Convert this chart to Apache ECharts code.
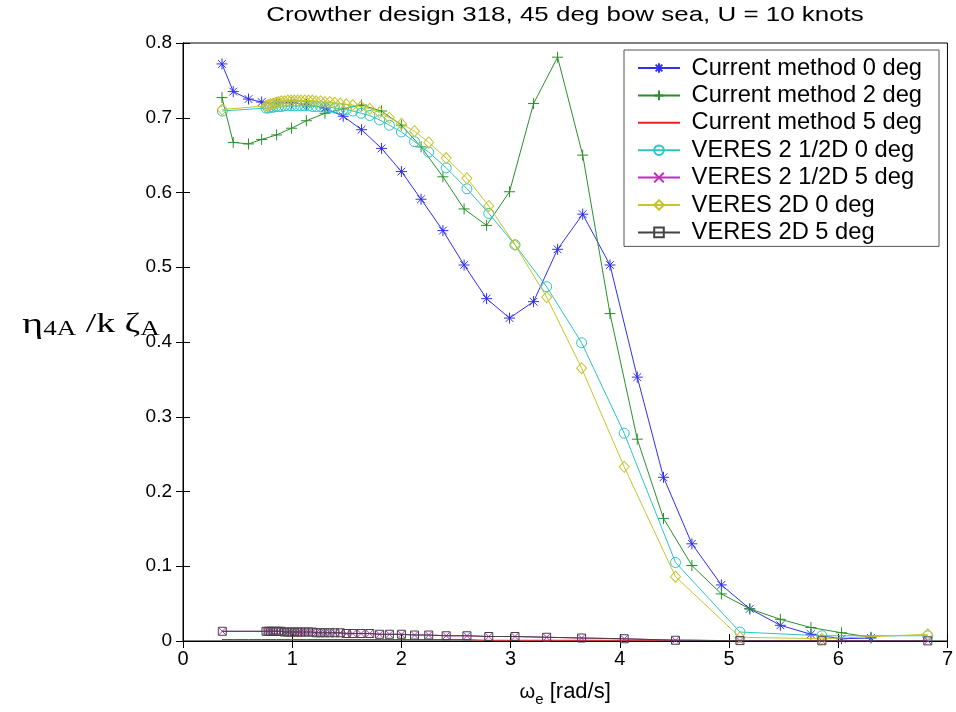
<!DOCTYPE html>
<html>
<head>
<meta charset="utf-8">
<script src="https://cdn.jsdelivr.net/npm/echarts@6/dist/echarts.min.js"></script>
<style>
  html, body { margin: 0; padding: 0; background: #fff; }
  #chart { width: 956px; height: 712px; }
</style>
</head>
<body>
<div id="chart"></div>
<script>
// ---- Data ----
const titleText = 'Crowther design 318, 45 deg bow sea, U = 10 knots';
const xTicks = [0, 1, 2, 3, 4, 5, 6, 7];
const yTicks = [0, 0.1, 0.2, 0.3, 0.4, 0.5, 0.6, 0.7, 0.8];

const seriesNames = [
  'Current method 0 deg',
  'Current method 2 deg',
  'Current method 5 deg',
  'VERES 2 1/2D 0 deg',
  'VERES 2 1/2D 5 deg',
  'VERES 2D 0 deg',
  'VERES 2D 5 deg'
];

// encounter frequencies of the "current method" runs
const freqCurrent = [0.357, 0.46, 0.60, 0.72, 0.857, 0.994, 1.13, 1.30, 1.467, 1.635,
  1.818, 2.00, 2.18, 2.38, 2.574, 2.78, 2.99, 3.21, 3.43, 3.66,
  3.91, 4.16, 4.40, 4.66, 4.93, 5.19, 5.47, 5.75, 6.03, 6.30];

const current0 = [0.772, 0.735, 0.725, 0.721, 0.720, 0.720, 0.718, 0.713, 0.702, 0.684,
  0.659, 0.628, 0.591, 0.549, 0.503, 0.458, 0.432, 0.454, 0.524, 0.571,
  0.503, 0.353, 0.219, 0.130, 0.075, 0.043, 0.021, 0.009, 0.003, 0.004];

const current2 = [0.727, 0.667, 0.665, 0.671, 0.677, 0.686, 0.696, 0.706, 0.712, 0.717,
  0.709, 0.690, 0.661, 0.621, 0.578, 0.556, 0.601, 0.719, 0.781, 0.650,
  0.438, 0.270, 0.164, 0.101, 0.063, 0.043, 0.029, 0.018, 0.011, 0.005];

const current5 = [0.002, 0.002, 0.002, 0.002, 0.002, 0.002, 0.002, 0.002, 0.002, 0.002,
  0.002, 0.002, 0.002, 0.002, 0.002, 0.001, 0.001, 0.001, 0.001, 0.001,
  0.001, 0.001, 0.001, 0.001, 0.0005, 0.0005, 0.0005, 0.0003, 0.0003, 0.0002];

// encounter frequencies of the VERES runs
const freqVeres = [0.36,
  0.76, 0.78, 0.80, 0.825, 0.85, 0.875, 0.90, 0.93, 0.96, 0.99,
  1.02, 1.05, 1.08, 1.115, 1.15, 1.185, 1.22, 1.26, 1.30, 1.345,
  1.39, 1.44, 1.495,
  1.555, 1.63, 1.71, 1.80, 1.89, 2.00, 2.12, 2.25, 2.41, 2.60,
  2.80, 3.04, 3.33, 3.65, 4.04, 4.51, 5.10, 5.85, 6.82];

const veres25d0 = [0.709,
  0.713, 0.713, 0.714, 0.714, 0.715, 0.715, 0.715, 0.716, 0.716, 0.716,
  0.716, 0.716, 0.716, 0.716, 0.716, 0.715, 0.715, 0.715, 0.714, 0.714,
  0.713, 0.712, 0.711,
  0.709, 0.706, 0.703, 0.697, 0.690, 0.681, 0.668, 0.654, 0.633, 0.605,
  0.572, 0.530, 0.474, 0.399, 0.278, 0.105, 0.012, 0.007, 0.007];

const veres25d5 = [0.013,
  0.013, 0.013, 0.013, 0.013, 0.013, 0.013, 0.013, 0.012, 0.012, 0.012,
  0.012, 0.012, 0.012, 0.012, 0.012, 0.012, 0.011, 0.011, 0.011, 0.011,
  0.011, 0.011, 0.010,
  0.010, 0.010, 0.010, 0.009, 0.009, 0.009, 0.008, 0.008, 0.007, 0.007,
  0.006, 0.006, 0.005, 0.004, 0.003, 0.001, 0.0005, 0.0003, 0.0002];

const veres2d0 = [0.711,
  0.716, 0.717, 0.718, 0.719, 0.720, 0.721, 0.722, 0.722, 0.723, 0.723,
  0.723, 0.723, 0.723, 0.723, 0.723, 0.723, 0.722, 0.722, 0.721, 0.721,
  0.720, 0.719, 0.718,
  0.717, 0.715, 0.712, 0.707, 0.700, 0.692, 0.682, 0.667, 0.646, 0.619,
  0.582, 0.530, 0.460, 0.365, 0.233, 0.086, 0.005, 0.003, 0.009];

const veres2d5 = [0.013,
  0.013, 0.013, 0.013, 0.013, 0.013, 0.013, 0.013, 0.012, 0.012, 0.012,
  0.012, 0.012, 0.012, 0.012, 0.012, 0.012, 0.011, 0.011, 0.011, 0.011,
  0.011, 0.011, 0.010,
  0.010, 0.010, 0.010, 0.009, 0.009, 0.009, 0.008, 0.008, 0.007, 0.007,
  0.006, 0.006, 0.005, 0.004, 0.003, 0.001, 0.0005, 0.0003, 0.0002];

// ---- Styling ----
const FONT = 'Liberation Sans';
const SERIF = 'Liberation Serif';
const colors = ['#2f2ff0', '#2a8f2a', '#e82020', '#2cc4c4', '#c02cc0', '#c8c42c', '#444444'];
const SYM_ASTERISK = 'path://M0,-10L0,10M-10,0L10,0M-7,-7L7,7M-7,7L7,-7';
const SYM_PLUS = 'path://M0,-10L0,10M-10,0L10,0';
const SYM_X = 'path://M-10,-10L10,10M-10,10L10,-10';
const symbols = [
  { symbol: SYM_ASTERISK, size: 11, show: true },
  { symbol: SYM_PLUS, size: 11, show: true },
  { symbol: 'circle', size: 1, show: false },
  { symbol: 'circle', size: 10, show: true },
  { symbol: SYM_X, size: 7, show: true },
  { symbol: 'diamond', size: [10, 11], show: true },
  { symbol: 'rect', size: 8, show: true }
];

const zip = (xs, ys) => xs.map((x, i) => [x, ys[i]]);
const seriesData = [
  zip(freqCurrent, current0),
  zip(freqCurrent, current2),
  zip(freqCurrent, current5),
  zip(freqVeres, veres25d0),
  zip(freqVeres, veres25d5),
  zip(freqVeres, veres2d0),
  zip(freqVeres, veres2d5)
];

const series = seriesNames.map((name, i) => ({
  name: name,
  type: 'line',
  xAxisIndex: 0,
  yAxisIndex: 0,
  data: seriesData[i],
  symbol: symbols[i].symbol,
  symbolSize: symbols[i].size,
  showSymbol: symbols[i].show,
  animation: false,
  lineStyle: { color: colors[i], width: 1 },
  itemStyle: symbols[i].show
    ? { color: 'none', borderColor: colors[i], borderWidth: 1 }
    : { color: 'none', borderColor: 'none', borderWidth: 0 },
  emphasis: { disabled: true },
  z: 2 + i
}));

const chart = echarts.init(document.getElementById('chart'), null, { renderer: 'canvas' });

const gridLeft = 183, gridTop = 43, gridW = 765, gridH = 599;

chart.setOption({
  backgroundColor: '#ffffff',
  animation: false,
  textStyle: { fontFamily: FONT },
  grid: {
    left: gridLeft, top: gridTop, width: gridW, height: gridH,
    show: true, borderColor: '#000', borderWidth: 1, backgroundColor: 'transparent',
    containLabel: false
  },
  xAxis: [
    {
      type: 'value', min: xTicks[0], max: xTicks[xTicks.length - 1], interval: 1,
      position: 'bottom',
      axisLine: { show: true, lineStyle: { color: '#000', width: 1 } },
      axisTick: { show: true, inside: true, length: 7, lineStyle: { color: '#000' } },
      axisLabel: { show: true, color: '#000', fontSize: 20, fontFamily: FONT, margin: 8 },
      splitLine: { show: false },
      name: '{w|ω}{e|e}{r| [rad/s]}',
      nameLocation: 'middle',
      nameGap: 36,
      nameTextStyle: {
        rich: {
          w: { fontSize: 20, fontFamily: FONT, color: '#000' },
          e: { fontSize: 15, fontFamily: FONT, color: '#000', padding: [15, 0, 0, 0] },
          r: { fontSize: 22, fontFamily: FONT, color: '#000' }
        }
      }
    },
    {
      type: 'value', min: xTicks[0], max: xTicks[xTicks.length - 1], interval: 1,
      position: 'top',
      axisLine: { show: true, lineStyle: { color: '#000', width: 1 } },
      axisTick: { show: true, inside: true, length: 7, lineStyle: { color: '#000' } },
      axisLabel: { show: false },
      splitLine: { show: false }
    }
  ],
  yAxis: [
    {
      type: 'value', min: yTicks[0], max: yTicks[yTicks.length - 1], interval: 0.1,
      position: 'left',
      axisLine: { show: true, lineStyle: { color: '#000', width: 1 } },
      axisTick: { show: true, inside: true, length: 7, lineStyle: { color: '#000' } },
      axisLabel: { show: true, color: '#000', fontSize: 19, fontFamily: FONT, margin: 11 },
      splitLine: { show: false }
    },
    {
      type: 'value', min: yTicks[0], max: yTicks[yTicks.length - 1], interval: 0.1,
      position: 'right',
      axisLine: { show: true, lineStyle: { color: '#000', width: 1 } },
      axisTick: { show: true, inside: true, length: 7, lineStyle: { color: '#000' } },
      axisLabel: { show: false },
      splitLine: { show: false }
    }
  ],
  legend: {
    data: seriesNames,
    orient: 'vertical',
    left: 624,
    top: 50,
    backgroundColor: '#fff',
    borderColor: '#555',
    borderWidth: 1,
    padding: [6, 17, 2, 13],
    itemGap: 3.4,
    itemWidth: 42,
    itemHeight: 12,
    selectedMode: false,
    formatter: (name) => ' ' + name,
    textStyle: { fontSize: 23.7, fontFamily: FONT, color: '#000' }
  },
  graphic: [
    {
      type: 'text',
      x: 565,
      y: 5,
      scaleX: 1.235,
      style: {
        x: 0, y: 0,
        text: titleText,
        fill: '#000',
        font: '21px "Liberation Sans"',
        textAlign: 'center',
        textVerticalAlign: 'top'
      },
      silent: true
    },
    {
      type: 'text',
      x: 22,
      y: 325,
      scaleX: 1.35,
      style: {
        x: 0, y: 0,
        text: '{g|η}{s|4A}{t| /k ζ}{s|A}',
        textVerticalAlign: 'middle',
        rich: {
          g: { fontSize: 30, fontFamily: SERIF, fill: '#000' },
          s: { fontSize: 20, fontFamily: SERIF, fill: '#000', padding: [9, 0, 0, 0] },
          t: { fontSize: 28, fontFamily: SERIF, fill: '#000' }
        }
      },
      silent: true
    }
  ],
  series: series
});
</script>
</body>
</html>
